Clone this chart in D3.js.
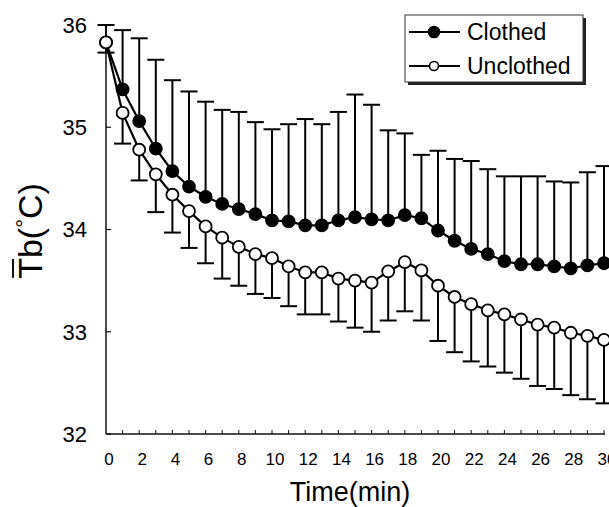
<!DOCTYPE html>
<html>
<head>
<meta charset="utf-8">
<script src="https://cdn.jsdelivr.net/npm/d3@7"></script>
<style>
  body { margin: 0; background: #fff; }
  svg { display: block; font-family: "Liberation Sans", Arial, sans-serif; }
</style>
</head>
<body>
<div id="chart"></div>
<script>
// time in minutes
const times = d3.range(0, 31);

// clothed mean and upper error (SD)
const clothedMean = [35.83, 35.37, 35.06, 34.79, 34.57, 34.42, 34.32, 34.25, 34.20, 34.15, 34.09,
  34.08, 34.04, 34.04, 34.09, 34.12, 34.10, 34.09, 34.14, 34.11, 33.99,
  33.89, 33.81, 33.76, 33.69, 33.66, 33.66, 33.64, 33.62, 33.65, 33.67];
const clothedErr = [0.17, 0.58, 0.81, 0.87, 0.89, 0.93, 0.93, 0.92, 0.95, 0.90, 0.89,
  0.95, 1.04, 0.99, 1.06, 1.20, 1.12, 0.88, 0.80, 0.62, 0.78,
  0.80, 0.86, 0.83, 0.83, 0.86, 0.86, 0.83, 0.84, 0.91, 0.95];

// unclothed mean and lower error (SD)
const unclothedMean = [35.83, 35.14, 34.78, 34.54, 34.34, 34.18, 34.03, 33.92, 33.83, 33.76, 33.72,
  33.64, 33.58, 33.58, 33.52, 33.50, 33.48, 33.59, 33.68, 33.60, 33.45,
  33.34, 33.27, 33.21, 33.17, 33.12, 33.07, 33.04, 32.99, 32.96, 32.92];
const unclothedErr = [0.10, 0.30, 0.30, 0.37, 0.37, 0.36, 0.36, 0.40, 0.38, 0.39, 0.39,
  0.39, 0.41, 0.41, 0.42, 0.46, 0.48, 0.48, 0.48, 0.49, 0.54,
  0.54, 0.56, 0.55, 0.57, 0.58, 0.60, 0.60, 0.61, 0.62, 0.62];

const xTickLabels = d3.range(0, 31, 2);
const yTickLabels = [32, 33, 34, 35, 36];
const seriesNames = ["Clothed", "Unclothed"];

const width = 609, height = 507;

const svg = d3.select("#chart").append("svg")
  .attr("width", width)
  .attr("height", height);

const x = d3.scaleLinear().domain([0, 30]).range([106, 604]);
const y = d3.scaleLinear().domain([32, 36]).range([434, 25]);

// axes
const axisColor = "#111";
svg.append("line")
  .attr("x1", x(0)).attr("x2", x(0))
  .attr("y1", y(36)).attr("y2", y(32))
  .attr("stroke", axisColor).attr("stroke-width", 1.5);
svg.append("line")
  .attr("x1", x(0)).attr("x2", x(30) + 1)
  .attr("y1", y(32)).attr("y2", y(32))
  .attr("stroke", axisColor).attr("stroke-width", 1.5);

// y ticks point inward
svg.selectAll(".ytick").data(yTickLabels).enter().append("line")
  .attr("x1", x(0)).attr("x2", x(0) + 5)
  .attr("y1", d => y(d)).attr("y2", d => y(d))
  .attr("stroke", axisColor).attr("stroke-width", 1.2);
svg.selectAll(".ylab").data(yTickLabels).enter().append("text")
  .attr("x", 87).attr("y", d => y(d))
  .attr("dy", "0.36em")
  .attr("text-anchor", "end")
  .attr("font-size", 22)
  .text(d => d);

// x ticks every minute, small and upward
svg.selectAll(".xtick").data(times.slice(1)).enter().append("line")
  .attr("x1", d => x(d)).attr("x2", d => x(d))
  .attr("y1", y(32)).attr("y2", y(32) - 4)
  .attr("stroke", axisColor).attr("stroke-width", 1);
svg.selectAll(".xlab").data(xTickLabels).enter().append("text")
  .attr("x", d => x(d) + 3).attr("y", 465)
  .attr("text-anchor", "middle")
  .attr("font-size", 17)
  .text(d => d);

// axis titles
svg.append("text")
  .attr("x", 350).attr("y", 501)
  .attr("text-anchor", "middle")
  .attr("font-size", 27)
  .text("Time(min)");

const yTitle = svg.append("g")
  .attr("transform", "translate(42,231) rotate(-90)");
const yText = yTitle.append("text")
  .attr("x", 0).attr("y", 0)
  .attr("text-anchor", "middle")
  .attr("font-size", 34);
yText.append("tspan").text("Tb(");
yText.append("tspan").attr("font-size", 22).attr("dy", -10).text("°");
yText.append("tspan").attr("dy", 10).text("C)");
const fullW = yText.node().getComputedTextLength();
const tW = yText.node().getSubStringLength(0, 1);
yTitle.append("line")
  .attr("x1", -fullW / 2 + 1).attr("x2", -fullW / 2 + tW - 1)
  .attr("y1", -29).attr("y2", -29)
  .attr("stroke", "#111").attr("stroke-width", 2);

// error bars
const capW = 8.5;
const plot = svg.append("g");

const clothedData = times.map((t, i) => ({ t: t, m: clothedMean[i], e: clothedErr[i] }));
const unclothedData = times.map((t, i) => ({ t: t, m: unclothedMean[i], e: unclothedErr[i] }));

function drawErr(data, dir) {
  const g = plot.append("g").attr("stroke", "#000").attr("stroke-width", 2);
  g.selectAll(".v").data(data).enter().append("line")
    .attr("x1", d => x(d.t)).attr("x2", d => x(d.t))
    .attr("y1", d => y(d.m)).attr("y2", d => y(d.m + dir * d.e));
  g.selectAll(".c").data(data).enter().append("line")
    .attr("x1", d => x(d.t) - capW).attr("x2", d => x(d.t) + capW)
    .attr("y1", d => y(d.m + dir * d.e)).attr("y2", d => y(d.m + dir * d.e));
}
drawErr(clothedData, 1);
drawErr(unclothedData, -1);

const line = d3.line().x(d => x(d.t)).y(d => y(d.m));

function drawSeries(data, fill) {
  plot.append("path").datum(data)
    .attr("d", line)
    .attr("fill", "none").attr("stroke", "#000").attr("stroke-width", 2.2);
  plot.selectAll(null).data(data).enter().append("circle")
    .attr("cx", d => x(d.t)).attr("cy", d => y(d.m))
    .attr("r", 6)
    .attr("fill", fill).attr("stroke", "#000").attr("stroke-width", 1.8);
}
drawSeries(clothedData, "#000");
drawSeries(unclothedData, "#fff");

// legend
const lg = svg.append("g").attr("transform", "translate(405,15)");
lg.append("rect").attr("x", 3).attr("y", 3).attr("width", 178).attr("height", 67)
  .attr("fill", "#222");
lg.append("rect").attr("x", 0).attr("y", 0).attr("width", 178).attr("height", 67)
  .attr("fill", "#fff").attr("stroke", "#333").attr("stroke-width", 1);
const legendFills = ["#000", "#fff"];
seriesNames.forEach((name, i) => {
  const ly = 17 + i * 34;
  lg.append("line").attr("x1", 4).attr("x2", 55).attr("y1", ly).attr("y2", ly)
    .attr("stroke", "#000").attr("stroke-width", 1.8);
  lg.append("circle").attr("cx", 29).attr("cy", ly).attr("r", i === 0 ? 5.5 : 4.5)
    .attr("fill", legendFills[i]).attr("stroke", "#000").attr("stroke-width", 1.6);
  lg.append("text").attr("x", 62).attr("y", ly).attr("dy", "0.36em")
    .attr("font-size", 23).text(name);
});
</script>
</body>
</html>
